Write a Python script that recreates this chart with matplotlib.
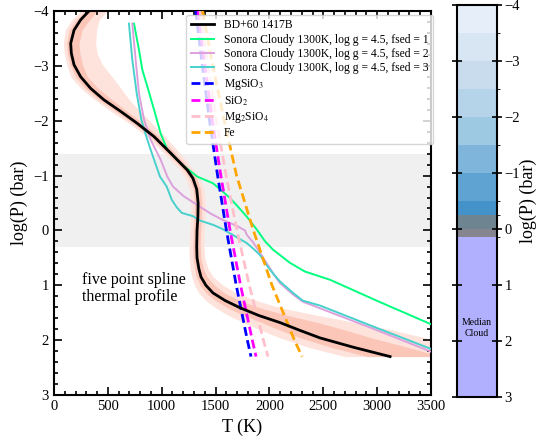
import numpy as np
import matplotlib
matplotlib.use("Agg")
import matplotlib.pyplot as plt
from matplotlib.colors import ListedColormap, BoundaryNorm
from matplotlib.cm import ScalarMappable
from matplotlib.ticker import MultipleLocator

plt.rcParams['font.family'] = ['Liberation Serif', 'DejaVu Serif']
plt.rcParams['mathtext.fontset'] = 'stix'
plt.rcParams['axes.linewidth'] = 1.5

# retrieved P-T profile (median and 1/2 sigma envelopes), log P in bar
logp_fit = [-4.0, -3.84, -3.65, -3.41, -3.23, -3.02, -2.8, -2.59, -2.38, -2.17, -1.95,
            -1.71, -1.41, -1.1, -0.95, -0.75, -0.5, -0.25, 0.0, 0.3,
            0.5, 0.7, 0.85, 1.0, 1.14, 1.28, 1.41, 1.55, 1.68, 1.82, 1.96, 2.13, 2.3]
t_med = [325, 248, 186, 155, 161, 186, 248, 340, 464, 619, 774,
         929, 1083, 1238, 1290, 1325, 1338, 1336, 1328, 1325,
         1328, 1345, 1365, 1410, 1476, 1590, 1727, 1900, 2098, 2280, 2470, 2780, 3120]
t_2lo = [250, 165, 105, 87, 95, 120, 155, 250, 380, 530, 700,
         860, 1020, 1170, 1220, 1258, 1270, 1268, 1262, 1255,
         1255, 1265, 1280, 1305, 1345, 1410, 1500, 1620, 1760, 1920, 2100, 2360, 2700]
t_2hi = [495, 420, 395, 387, 400, 450, 540, 620, 700, 800, 910,
         1030, 1170, 1300, 1355, 1393, 1405, 1402, 1395, 1392,
         1400, 1430, 1480, 1570, 1690, 1880, 2100, 2450, 2800, 3150, 3450, 3800, 4100]
t_1lo = [290, 205, 140, 118, 125, 150, 200, 290, 420, 575, 735,
         895, 1050, 1205, 1257, 1293, 1305, 1302, 1295, 1290,
         1292, 1305, 1322, 1355, 1410, 1500, 1610, 1760, 1930, 2100, 2290, 2570, 2910]
t_1hi = [400, 330, 260, 232, 240, 265, 310, 410, 540, 680, 830,
         975, 1125, 1270, 1325, 1360, 1372, 1369, 1362, 1358,
         1364, 1387, 1422, 1490, 1580, 1730, 1910, 2170, 2450, 2710, 2950, 3280, 3600]

# Sonora Cloudy 1300K, log g = 4.5 models
t_fsed1 = [743, 789, 820, 867, 929, 990, 1052, 1176, 1331, 1476, 1560,
           1634, 1700, 1790, 1885, 1960, 2033, 2190, 2330, 2563, 3030, 3500]
p_fsed1 = [-3.77, -3.29, -2.93, -2.62, -2.2, -1.77, -1.47, -1.22, -0.98, -0.86, -0.72,
           -0.59, -0.45, -0.25, -0.01, 0.2, 0.35, 0.59, 0.75, 0.9, 1.31, 1.71]
t_fsed2 = [727, 758, 789, 836, 898, 990, 1052, 1105, 1200, 1356, 1460, 1569,
           1700, 1773, 1790, 1850, 1913, 1975, 2040, 2098, 2220, 2310, 2470, 3000, 3500]
p_fsed2 = [-3.77, -3.11, -2.5, -2.02, -1.65, -1.29, -0.98, -0.8, -0.63, -0.43, -0.3, -0.19,
           -0.08, 0.0, 0.08, 0.22, 0.41, 0.6, 0.8, 0.96, 1.17, 1.30, 1.42, 1.82, 2.21]
t_fsed3 = [696, 727, 768, 811, 867, 929, 984, 1046, 1093, 1140, 1186, 1290, 1356, 1479,
           1560, 1640, 1789, 1860, 1913, 1980, 2040, 2098, 2220, 2310, 2470, 3000, 3500]
p_fsed3 = [-3.77, -3.11, -2.5, -2.02, -1.65, -1.29, -0.98, -0.8, -0.56, -0.42, -0.32, -0.26, -0.18, -0.1,
           -0.03, 0.06, 0.23, 0.35, 0.45, 0.65, 0.8, 0.93, 1.14, 1.28, 1.37, 1.78, 2.16]

# condensation curves
logp_cond = [-4.0, -3.0, -2.0, -1.0, 0.0, 1.0, 2.0, 2.3]
t_mgsio3 = [1316, 1377, 1444, 1519, 1601, 1692, 1795, 1829]
t_sio2 = [1337, 1401, 1471, 1549, 1635, 1732, 1841, 1876]
t_mg2sio4 = [1356, 1428, 1508, 1598, 1699, 1813, 1944, 1987]
t_fe = [1380, 1474, 1581, 1695, 1851, 2024, 2232, 2303]

# cloud pressure colour bar
cloud_bounds = [-4.0, -3.5, -3.0, -2.5, -2.0, -1.5, -1.0, -0.5, -0.25, 0.0, 0.15, 3.0]
cloud_colors = ['#e6eff9', '#d8e6f3', '#c8dcee', '#b5d4ea', '#9dc9e3', '#7fb5db',
                '#5fa3d2', '#4392c9', '#6e8591', '#85858f', '#b0b0ff']
cloud_band = (-1.4, 0.3)

fig = plt.figure(figsize=(5.42, 4.45), dpi=100)
ax = fig.add_axes([0.0996, 0.1124, 0.6956, 0.8629])

ax.axhspan(*cloud_band, color='#f0f0f0', zorder=0, lw=0)
ax.fill_betweenx(logp_fit, t_2lo, t_2hi, color='#fde3dc', lw=0, zorder=1)
ax.fill_betweenx(logp_fit, t_1lo, t_1hi, color='#fbc6b7', lw=0, zorder=1)
ax.plot(t_med, logp_fit, color='k', lw=2, label='BD+60 1417B', zorder=4)

ax.plot(t_fsed1, p_fsed1, color='springgreen', lw=1.4,
        label='Sonora Cloudy 1300K, log g = 4.5, fsed = 1', zorder=3)
ax.plot(t_fsed2, p_fsed2, color='plum', lw=1.4,
        label='Sonora Cloudy 1300K, log g = 4.5, fsed = 2', zorder=3)
ax.plot(t_fsed3, p_fsed3, color='mediumturquoise', lw=1.4,
        label='Sonora Cloudy 1300K, log g = 4.5, fsed = 3', zorder=3)

dash = (3.2, 1.6)
ax.plot(t_mgsio3, logp_cond, color='blue', lw=2, dashes=dash, label='MgSiO$_3$', zorder=3)
ax.plot(t_sio2, logp_cond, color='magenta', lw=2, dashes=dash, label='SiO$_2$', zorder=3)
ax.plot(t_mg2sio4, logp_cond, color='pink', lw=2, dashes=dash, label='Mg$_2$SiO$_4$', zorder=3)
ax.plot(t_fe, logp_cond, color='orange', lw=2, dashes=dash, label='Fe', zorder=3)

ax.text(260, 1.06, 'five point spline\nthermal profile', fontsize=11.5, va='center',
        ha='left', linespacing=1.05)

ax.set_xlim(0, 3500)
ax.set_ylim(3, -4)
ax.xaxis.set_major_locator(MultipleLocator(500))
ax.xaxis.set_minor_locator(MultipleLocator(100))
ax.yaxis.set_major_locator(MultipleLocator(1))
ax.yaxis.set_minor_locator(MultipleLocator(0.2))
ax.tick_params(which='both', direction='in', top=True, right=True, labelsize=10.5, width=1.2)
ax.tick_params(which='major', length=6)
ax.tick_params(which='minor', length=3)
ax.set_xlabel('T (K)', fontsize=13)
ax.set_ylabel('log(P) (bar)', fontsize=13)

ax.legend(loc='upper right', bbox_to_anchor=(1.005, 0.99), borderaxespad=0,
          fontsize=8.4, handlelength=2.0, labelspacing=0.2)

# colour bar of cloud location
cax = fig.add_axes([0.843, 0.108, 0.0738, 0.881])
cmap = ListedColormap(cloud_colors)
norm = BoundaryNorm(cloud_bounds, cmap.N)
cb = fig.colorbar(ScalarMappable(norm=norm, cmap=cmap), cax=cax, spacing='proportional',
                  ticks=np.arange(-4, 4))
cax.set_ylim(3, -4)
cb.outline.set_linewidth(1.5)
cax.tick_params(direction='inout', left=True, right=True, length=7, width=1.2,
                labelsize=10.5, pad=2)
cb.set_label('log(P) (bar)', fontsize=13, labelpad=0)
cax.text(0.5, 1.77, 'Median\nCloud', transform=cax.get_yaxis_transform(),
         ha='center', va='center', fontsize=7)

fig.savefig('out.png', dpi=100)
